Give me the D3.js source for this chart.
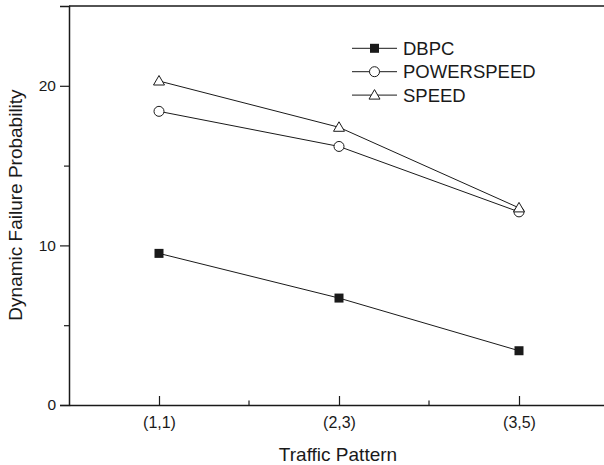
<!DOCTYPE html>
<html>
<head>
<meta charset="utf-8">
<script src="https://cdn.jsdelivr.net/npm/d3@7"></script>
<style>
  body { margin: 0; background: #fff; }
  svg { display: block; font-family: "Liberation Sans", Arial, sans-serif; }
</style>
</head>
<body>
<svg id="chart" width="604" height="465"></svg>
<script>
// 数据
const categories = ['(1,1)', '(2,3)', '(3,5)'];
const dbpc = [9.5, 6.7, 3.4];
const powerspeed = [18.4, 16.2, 12.1];
const speed = [20.3, 17.4, 12.35];
const yTicks = [0, 10, 20];
const yMinorTicks = [5, 15];

const series = [
    { name: 'DBPC', values: dbpc, symbol: 'square' },
    { name: 'POWERSPEED', values: powerspeed, symbol: 'circle' },
    { name: 'SPEED', values: speed, symbol: 'triangle' }
];

const ink = '#1a1a1a';
const font = '"Liberation Sans", Arial, sans-serif';
const svg = d3.select('#chart');

// 坐标范围
const plotLeft = 69, plotTop = 6, plotBottom = 405;
const x = d3.scaleLinear().domain([0.5, 3.5]).range([plotLeft, plotLeft + 540]);
const y = d3.scaleLinear().domain([0, 25]).range([plotBottom, plotTop]);

// 绘制符号
function drawSymbol(g, type, cx, cy) {
    if (type === 'square') {
        g.append('rect').attr('x', cx - 4.5).attr('y', cy - 4.5)
            .attr('width', 9).attr('height', 9).attr('fill', ink);
    } else if (type === 'circle') {
        g.append('circle').attr('cx', cx).attr('cy', cy).attr('r', 5)
            .attr('fill', '#fff').attr('stroke', ink).attr('stroke-width', 1);
    } else {
        g.append('path')
            .attr('d', `M${cx},${cy - 5.5}L${cx + 5.5},${cy + 4}L${cx - 5.5},${cy + 4}Z`)
            .attr('fill', '#fff').attr('stroke', ink).attr('stroke-width', 1);
    }
}

// 边框（上、左）
svg.append('line').attr('x1', plotLeft).attr('x2', 604).attr('y1', plotTop).attr('y2', plotTop)
    .attr('stroke', ink).attr('stroke-width', 1.5);

// Y 轴
const yAxis = svg.append('g').attr('transform', `translate(${plotLeft},0)`)
    .call(d3.axisLeft(y).tickValues(yTicks).tickSize(9).tickPadding(4).tickFormat(d3.format('d')));
yAxis.select('.domain').attr('stroke', ink).attr('stroke-width', 1.5);
yAxis.selectAll('.tick line').attr('stroke', ink).attr('stroke-width', 1.2);
yAxis.selectAll('.tick text').attr('fill', ink).style('font-size', '15.5px')
    .style('font-family', font);
svg.append('g').attr('transform', `translate(${plotLeft},0)`)
    .call(d3.axisLeft(y).tickValues(yMinorTicks).tickSize(5).tickFormat(''))
    .call(g => g.select('.domain').remove())
    .selectAll('.tick line').attr('stroke', ink).attr('stroke-width', 1.2);

// X 轴
const xAxis = svg.append('g').attr('transform', `translate(0,${plotBottom})`)
    .call(d3.axisBottom(x).tickValues([1, 2, 3]).tickSize(0).tickPadding(10)
        .tickFormat((d, i) => categories[i]));
xAxis.select('.domain').attr('stroke', ink).attr('stroke-width', 1.5);
xAxis.selectAll('.tick text').attr('fill', ink).attr('dy', null).attr('y', 23)
    .style('font-size', '16px').style('font-family', font);
xAxis.selectAll('.tick').append('line').attr('y1', 0).attr('y2', -9)
    .attr('stroke', ink).attr('stroke-width', 1.2);
svg.append('g').selectAll('line').data([1.5, 2.5]).join('line')
    .attr('x1', d => x(d)).attr('x2', d => x(d))
    .attr('y1', plotBottom).attr('y2', plotBottom - 4.5)
    .attr('stroke', ink).attr('stroke-width', 1.2);

// 轴标题
svg.append('text').attr('x', 338).attr('y', 461).attr('text-anchor', 'middle')
    .attr('fill', ink).style('font-size', '19px').text('Traffic Pattern');
svg.append('text').attr('transform', 'translate(22,205) rotate(-90)')
    .attr('text-anchor', 'middle').attr('fill', ink).style('font-size', '19px')
    .text('Dynamic Failure Probability');

// 折线
const line = d3.line().x((d, i) => x(i + 1)).y(d => y(d));
series.forEach(s => {
    svg.append('path').datum(s.values).attr('d', line)
        .attr('fill', 'none').attr('stroke', ink).attr('stroke-width', 1);
});
series.forEach(s => {
    const g = svg.append('g');
    s.values.forEach((v, i) => drawSymbol(g, s.symbol, x(i + 1), y(v)));
});

// 图例
series.forEach((s, i) => {
    const ly = 48.3 + i * 23.4;
    const g = svg.append('g');
    g.append('line').attr('x1', 352).attr('x2', 397).attr('y1', ly).attr('y2', ly)
        .attr('stroke', ink).attr('stroke-width', 1);
    drawSymbol(g, s.symbol, 374.5, ly);
    g.append('text').attr('x', 403).attr('y', ly + 6.6).attr('fill', ink)
        .style('font-size', '18.5px').text(s.name);
});
</script>
</body>
</html>
